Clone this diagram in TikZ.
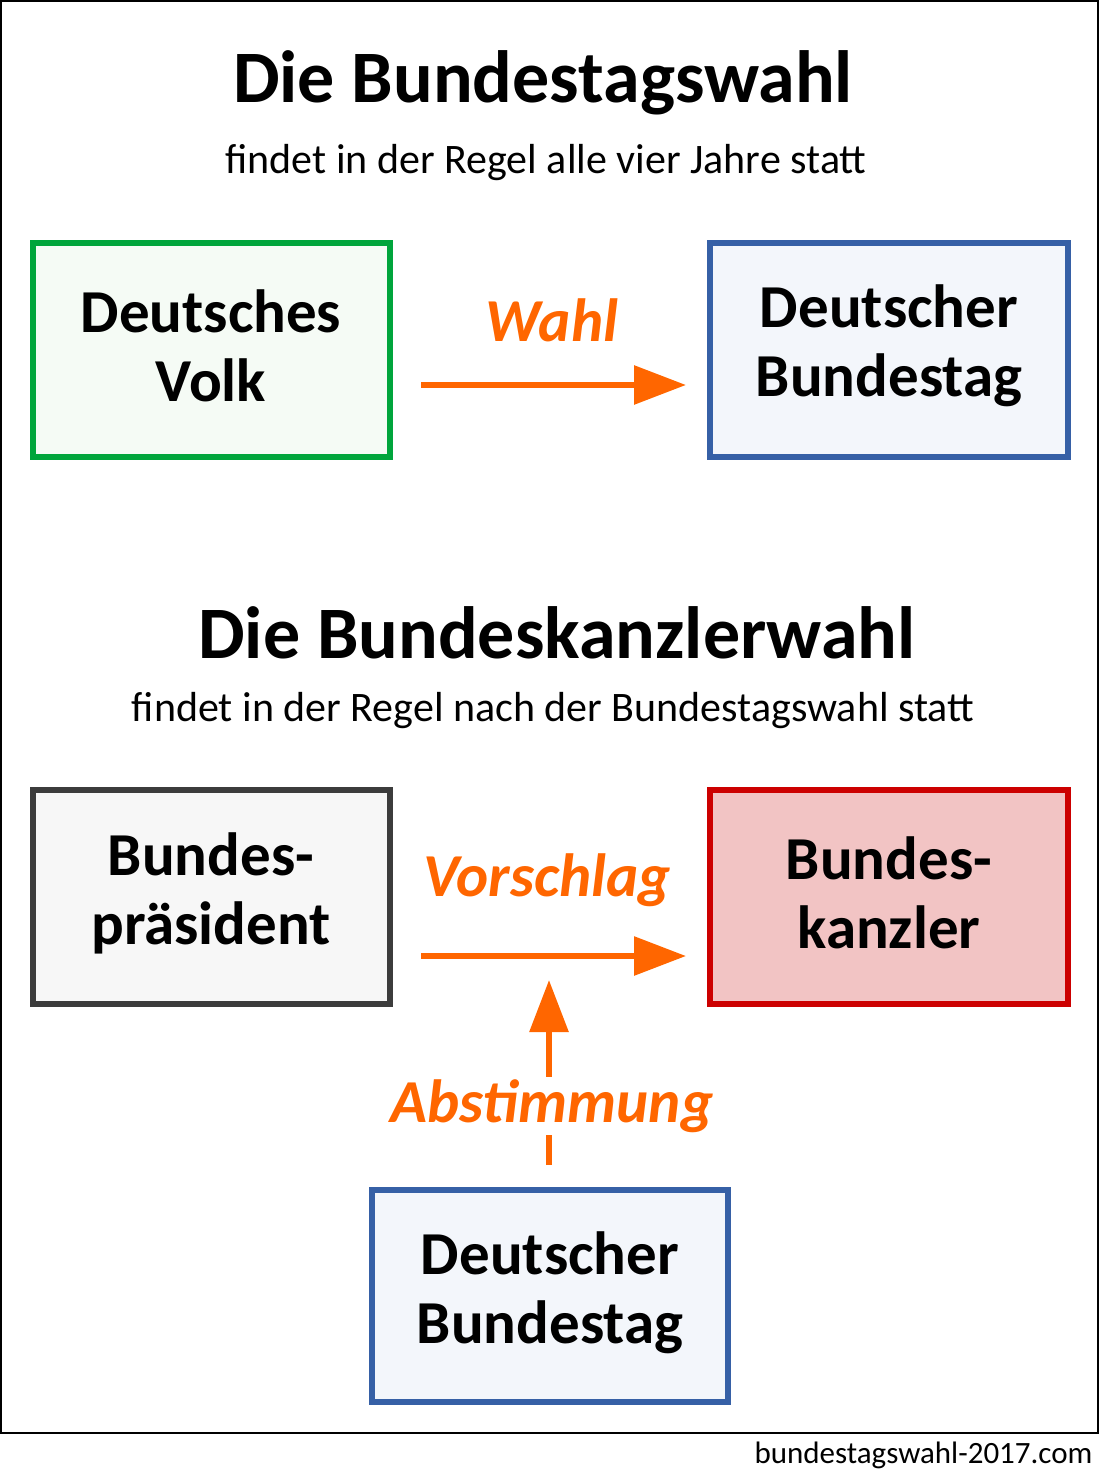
\documentclass[tikz,border=0pt]{standalone}
\usepackage{fontspec}
\setmainfont{Carlito}
\usetikzlibrary{arrows.meta}
\definecolor{org}{HTML}{FF6600}
\begin{document}
\begin{tikzpicture}[x=1pt,y=-1pt,
 box/.style={draw,line width=6pt,inner sep=0pt},
 btxt/.style={font=\fontsize{61}{69}\selectfont\bfseries,align=center},
 lbl/.style={text=org,font=\fontsize{61}{66}\selectfont\bfseries\itshape},
 arr/.style={draw=org,line width=6pt,-{Triangle[length=52pt,width=38pt]}},
 title/.style={font=\fontsize{74}{78}\selectfont\bfseries},
 sub/.style={font=\fontsize{42}{46}\selectfont}]
\useasboundingbox (0,0) rectangle (1100,1471);
\draw[line width=2pt] (1,1) rectangle (1098,1433);
\node[anchor=east,font=\fontsize{31}{33}\selectfont] (foot) at (1096,1455) {bundestagswahl-2017.com};
\node[title] (t1) at (543,83) {Die Bundestagswahl};
\node[sub] (s1) at (546,163) {findet in der Regel alle vier Jahre statt};
\draw[box,draw={rgb,255:red,0;green,165;blue,60},fill={rgb,255:red,245;green,251;blue,245}] (33,243) rectangle (390,457);
\node[btxt] (volk) at (211,346) {Deutsches\\Volk};
\draw[box,draw={rgb,255:red,54;green,96;blue,166},fill={rgb,255:red,243;green,246;blue,251}] (710,243) rectangle (1068,457);
\node[btxt] (bt1) at (889,346) {Deutscher\\Bundestag};
\coordinate (a1) at (421,385); \coordinate (b1) at (686,385);
\draw[arr] (a1) -- (b1);
\node[lbl] (wahl) at (552,320) {Wahl};
\node[title] (t2) at (557,633) {Die Bundeskanzlerwahl};
\node[sub] (s2) at (553,711) {findet in der Regel nach der Bundestagswahl statt};
\draw[box,draw={rgb,255:red,60;green,60;blue,60},fill={rgb,255:red,247;green,247;blue,247}] (33,790) rectangle (390,1004);
\node[btxt] (bp) at (211,893) {Bundes-\\präsident};
\draw[box,draw={rgb,255:red,204;green,0;blue,0},fill={rgb,255:red,242;green,196;blue,196}] (710,790) rectangle (1068,1004);
\node[btxt] (bk) at (889,893) {Bundes-\\kanzler};
\coordinate (a2) at (421,956); \coordinate (b2) at (686,956);
\draw[arr] (a2) -- (b2);
\node[lbl] (vor) at (547,880) {Vorschlag};
\draw[box,draw={rgb,255:red,54;green,96;blue,166},fill={rgb,255:red,243;green,246;blue,251}] (372,1190) rectangle (728,1402);
\node[btxt] (bt2) at (550,1293) {Deutscher\\Bundestag};
\coordinate (c1) at (549,1165); \coordinate (c2) at (549,980);
\draw[arr] (c1) -- (c2);
\node[lbl,fill=white,inner ysep=2pt] (abs) at (552,1106) {Abstimmung};
\end{tikzpicture}
\end{document}
